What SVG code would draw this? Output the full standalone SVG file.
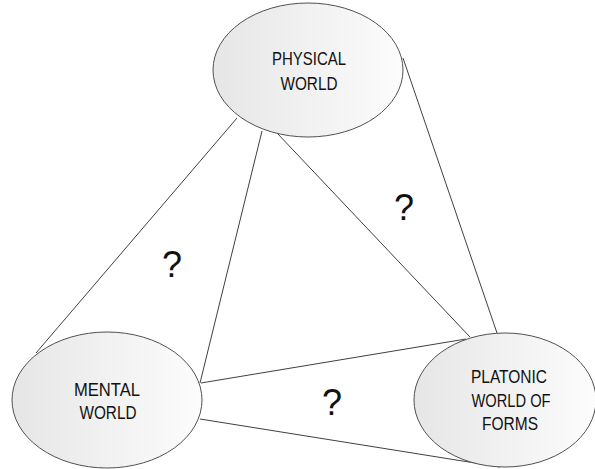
<svg xmlns="http://www.w3.org/2000/svg" width="595" height="469" viewBox="0 0 595 469">
<defs>
<linearGradient id="g" x1="0" y1="0" x2="1" y2="0">
<stop offset="0" stop-color="#e6e6e6"/>
<stop offset="1" stop-color="#fcfcfc"/>
</linearGradient>
<style>
.n{fill:url(#g);stroke:#505050;stroke-width:1}
.c line{stroke:#404040;stroke-width:1}
.t{font-family:"Liberation Sans",Arial,sans-serif;font-size:17.5px;fill:#111;text-anchor:middle}
.q{font-family:"Liberation Sans",Arial,sans-serif;font-size:36px;fill:#111;text-anchor:middle}
</style>
</defs>
<rect width="595" height="469" fill="#fff"/>
<g class="c" id="connectors">
<line x1="237" y1="118" x2="36" y2="353"/>
<line x1="262" y1="131" x2="200" y2="383"/>
<line x1="277" y1="133" x2="470" y2="337"/>
<line x1="403" y1="58" x2="497" y2="333"/>
<line x1="201" y1="383" x2="466" y2="339"/>
<line x1="200" y1="419" x2="500" y2="467"/>
</g>
<g id="physical">
<ellipse class="n" cx="308" cy="70" rx="95" ry="67"/>
<text class="t" x="309" y="65" textLength="74" lengthAdjust="spacingAndGlyphs">PHYSICAL</text>
<text class="t" x="309" y="90" textLength="57" lengthAdjust="spacingAndGlyphs">WORLD</text>
</g>
<g id="mental">
<ellipse class="n" cx="107" cy="400" rx="95" ry="68"/>
<text class="t" x="107" y="396" textLength="66" lengthAdjust="spacingAndGlyphs">MENTAL</text>
<text class="t" x="108" y="419" textLength="57" lengthAdjust="spacingAndGlyphs">WORLD</text>
</g>
<g id="platonic">
<ellipse class="n" cx="505" cy="400" rx="91" ry="67"/>
<text class="t" x="509" y="383" textLength="76" lengthAdjust="spacingAndGlyphs">PLATONIC</text>
<text class="t" x="511" y="407" textLength="79" lengthAdjust="spacingAndGlyphs">WORLD OF</text>
<text class="t" x="510" y="430" textLength="56" lengthAdjust="spacingAndGlyphs">FORMS</text>
</g>
<text class="q" x="404" y="220">?</text>
<text class="q" x="172" y="277">?</text>
<text class="q" x="332" y="415">?</text>
</svg>
